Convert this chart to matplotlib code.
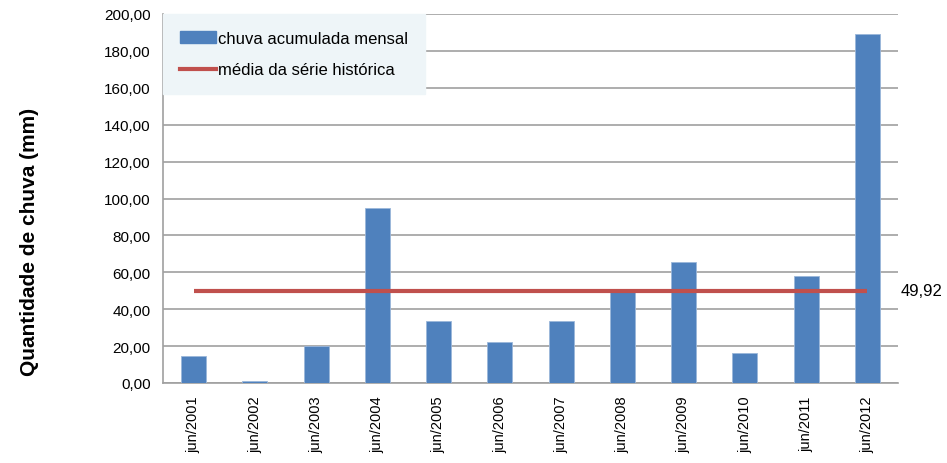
import matplotlib
matplotlib.use("Agg")
import matplotlib.pyplot as plt
from matplotlib.patches import Patch
from matplotlib.lines import Line2D

categories = ["jun/2001", "jun/2002", "jun/2003", "jun/2004", "jun/2005", "jun/2006",
              "jun/2007", "jun/2008", "jun/2009", "jun/2010", "jun/2011", "jun/2012"]
rain = [14.6, 1.0, 19.8, 94.8, 33.5, 22.3, 33.5, 49.2, 65.4, 16.2, 58.2, 189.2]
mean_value = 49.92
mean_label = "49,92"
yticks = [0, 20, 40, 60, 80, 100, 120, 140, 160, 180, 200]
ytick_labels = ["0,00", "20,00", "40,00", "60,00", "80,00", "100,00", "120,00",
                "140,00", "160,00", "180,00", "200,00"]

plt.rcParams['font.family'] = ['Liberation Sans', 'DejaVu Sans']

fig = plt.figure(figsize=(9.47, 4.64), dpi=100)
W, H = 947, 464
ax = fig.add_axes([163 / W, 1 - 384 / H, (898 - 163) / W, (384 - 15) / H])

x = list(range(len(categories)))
ax.bar(x, rain, width=0.41, color="#4F81BD", edgecolor="#9BB7DA", linewidth=0.6, zorder=3)
ax.plot([x[0], x[-1]], [mean_value, mean_value], color="#C0504D", linewidth=3, zorder=4,
        solid_capstyle="butt")

ax.set_xlim(-0.5, len(categories) - 0.5)
ax.set_ylim(0, 200)
ax.set_yticks(yticks)
ax.set_yticklabels(ytick_labels, fontsize=11)
ax.set_xticks(x)
ax.set_xticklabels(categories, rotation=90, fontsize=10.5)
ax.tick_params(axis="y", length=0, pad=9)
ax.tick_params(axis="x", length=0, pad=9)
ax.yaxis.grid(True, color="#A0A0A0", linewidth=1.2, zorder=0)
ax.set_axisbelow(True)
for s in ["top", "right"]:
    ax.spines[s].set_visible(False)
ax.spines["left"].set_color("#A0A0A0")
ax.spines["bottom"].set_color("#A0A0A0")
ax.spines["left"].set_linewidth(1.2)
ax.spines["bottom"].set_linewidth(1.2)

ax.text(len(categories) - 0.5 + 0.05, mean_value, mean_label, fontsize=12,
        va="center", ha="left", transform=ax.transData, clip_on=False)

fig.text(30 / W, 1 - 242 / H, "Quantidade de chuva (mm)", rotation=90, fontsize=15,
         fontweight="bold", va="center", ha="center")

handles = [Patch(facecolor="#4F81BD", edgecolor="#4F81BD"),
           Line2D([0], [0], color="#C0504D", linewidth=3)]
leg = ax.legend(handles, ["chuva acumulada mensal", "média da série histórica"],
                loc="upper left", bbox_to_anchor=(0, 1), fontsize=12,
                frameon=True, fancybox=False, facecolor="#EEF5F8", edgecolor="#EEF5F8",
                framealpha=1, borderpad=1.0, labelspacing=1.0, handlelength=2.2,
                handletextpad=0.1, borderaxespad=0)
leg.set_zorder(5)

fig.savefig("out.png", dpi=100)
